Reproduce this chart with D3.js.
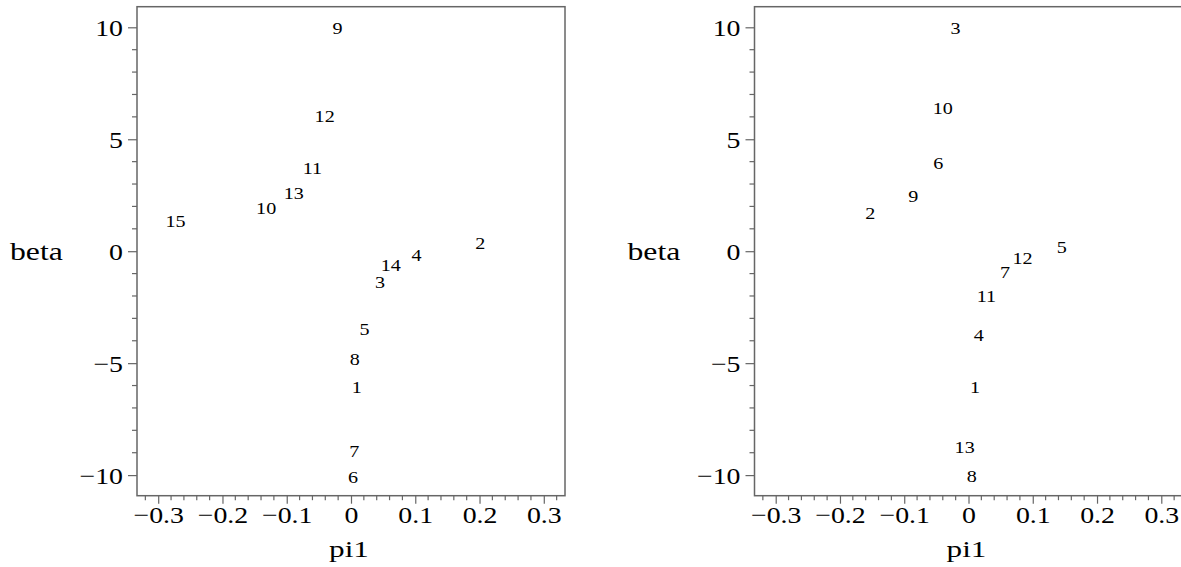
<!DOCTYPE html>
<html><head><meta charset="utf-8">
<script src="https://cdn.jsdelivr.net/npm/d3@7"></script>
<style>body{margin:0;background:#fff;} svg{display:block;}</style>
</head><body>
<svg id="chart" width="1181" height="567"></svg>
<script>
// Data
const xTicks = [-0.3, -0.2, -0.1, 0, 0.1, 0.2, 0.3];
const yTicks = [-10, -5, 0, 5, 10];
const xLabel = "pi1";
const yLabel = "beta";

const leftLabels = ["1","2","3","4","5","6","7","8","9","10","11","12","13","14","15"];
const leftPi1  = [0.009, 0.201, 0.045, 0.102, 0.021, 0.003, 0.005, 0.006, -0.021, -0.132, -0.060, -0.041, -0.089, 0.062, -0.273];
const leftBeta = [-6.10, 0.36, -1.38, -0.18, -3.50, -10.09, -8.93, -4.81, 9.94, 1.89, 3.68, 6.00, 2.60, -0.63, 1.34];

const rightLabels = ["1","2","3","4","5","6","7","8","9","10","11","12","13"];
const rightPi1  = [0.010, -0.153, -0.020, 0.016, 0.145, -0.047, 0.057, 0.005, -0.086, -0.040, 0.028, 0.084, -0.006];
const rightBeta = [-6.10, 1.71, 9.94, -3.75, 0.15, 3.94, -0.94, -10.04, 2.46, 6.40, -2.01, -0.30, -8.74];

const svg = d3.select("#chart");
const frameColor = "#666";
const FONT = "'Liberation Serif', 'Times New Roman', serif";
const W = 428, H = 489, TOP = 6.7;

// place text at (px,py) stretched horizontally by s
function stretch(sel, s) {
  sel.each(function() {
    const t = d3.select(this);
    const px = +t.attr("x") || 0;
    t.attr("x", px / s).attr("transform", `scale(${s},1)`);
  });
}

function panel(x0, labels, xs, ys) {
  const g = svg.append("g").attr("transform", `translate(${x0},${TOP})`);
  const x = d3.scaleLinear().domain([-0.333, 0.333]).range([0, W]);
  const y = d3.scaleLinear().domain([-10.92, 10.92]).range([H, 0]);

  // frame
  g.append("rect").attr("x",0).attr("y",0).attr("width",W).attr("height",H)
    .attr("fill","none").attr("stroke",frameColor).attr("stroke-width",1.5);

  // minor ticks
  const xMinor = d3.range(-16, 17).filter(i => i % 5 !== 0).map(i => i*0.02);
  const yMinor = d3.range(-10, 11).filter(v => v % 5 !== 0);
  g.append("g").selectAll("line").data(xMinor).join("line")
    .attr("x1", d => x(d)).attr("x2", d => x(d)).attr("y1", H).attr("y2", H+4.5)
    .attr("stroke", frameColor).attr("stroke-width",1.2);
  g.append("g").selectAll("line").data(yMinor).join("line")
    .attr("y1", d => y(d)).attr("y2", d => y(d)).attr("x1", 0).attr("x2", -5)
    .attr("stroke", frameColor).attr("stroke-width",1.2);

  // axes
  const xAxis = d3.axisBottom(x).tickValues(xTicks)
    .tickFormat(d => d === 0 ? "0" : d3.format(".1f")(d)).tickSize(8);
  const yAxis = d3.axisLeft(y).tickValues(yTicks).tickFormat(d3.format("d")).tickSize(9);
  const gx = g.append("g").attr("transform", `translate(0,${H})`).call(xAxis);
  const gy = g.append("g").call(yAxis);
  [gx, gy].forEach(a => {
    a.select(".domain").remove();
    a.selectAll(".tick line").attr("stroke", frameColor).attr("stroke-width",1.2);
    a.selectAll(".tick text").attr("fill","#000")
      .style("font-family", FONT).style("font-size","24px");
  });
  gx.selectAll(".tick text").attr("y", 27.5).attr("dy", 0).attr("x", 0);
  gy.selectAll(".tick text").attr("x", -14).attr("dy", "0.33em");
  stretch(gx.selectAll(".tick text"), 1.16);
  stretch(gy.selectAll(".tick text"), 1.16);

  // axis titles
  g.append("text").attr("x", W/2 - 2).attr("y", H + 61).attr("text-anchor","middle")
    .style("font-family", FONT).style("font-size","24px").text(xLabel)
    .call(s => stretch(s, 1.3));
  g.append("text").attr("x", -127).attr("y", y(0) + 9).attr("text-anchor","start")
    .style("font-family", FONT).style("font-size","26px").text(yLabel)
    .call(s => stretch(s, 1.22));

  // point labels
  const data = labels.map((l, i) => ({l, px: xs[i], py: ys[i]}));
  const pts = g.append("g").selectAll("g").data(data).join("g")
    .attr("transform", d => `translate(${x(d.px)},${y(d.py)})`);
  pts.append("text")
    .attr("text-anchor","middle").attr("dy","0.34em")
    .attr("transform","scale(1.22,1)")
    .style("font-family", FONT).style("font-size","16.5px")
    .text(d => d.l);
}

panel(137, leftLabels, leftPi1, leftBeta);
panel(754.5, rightLabels, rightPi1, rightBeta);
</script>
</body></html>
